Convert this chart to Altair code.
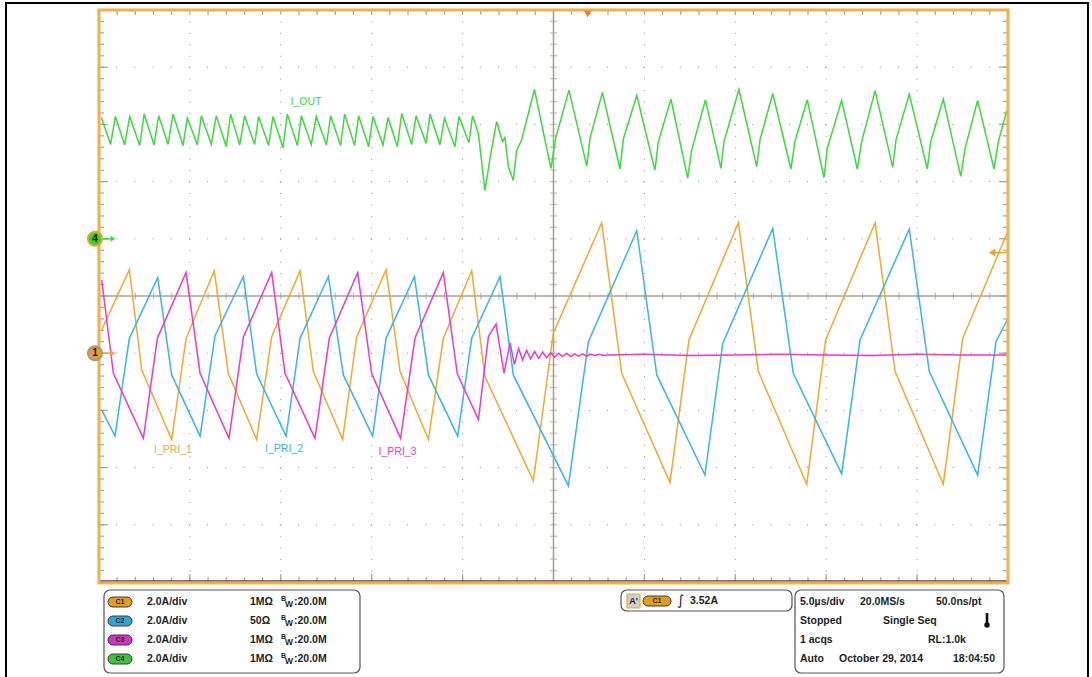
import altair as alt
import numpy as np
import pandas as pd

# ---------------------------------------------------------------------------
# Acquisition: 5.0 us/div x 10 div horizontally, 10 div vertically, 2.0 A/div
# Trace vertices: time in microseconds, position in screen divisions
# ---------------------------------------------------------------------------
i_pri_1_t = [0.15, 1.67, 2.35, 4.00, 4.79, 6.34, 7.11, 8.67, 9.50, 11.06,
             11.79, 13.40, 14.17, 15.79, 16.56, 18.12, 18.94, 20.50, 21.23, 23.89,
             24.99, 27.65, 28.75, 31.41, 32.45, 35.17, 36.27, 38.93, 39.97, 42.69,
             43.79, 46.44, 47.51, 49.95]
i_pri_1_div = [-0.59, 0.46, -1.29, -2.51, -0.74, 0.44, -1.35, -2.51, -0.71, 0.44,
               -1.32, -2.51, -0.72, 0.46, -1.32, -2.51, -0.74, 0.44, -1.41, -3.23,
               -0.65, 1.28, -1.35, -3.26, -0.77, 1.28, -1.32, -3.29, -0.77, 1.28,
               -1.32, -3.29, -0.74, 1.10]

i_pri_2_t = [0.15, 0.88, 1.67, 3.23, 4.00, 5.56, 6.38, 7.94, 8.67, 10.29,
             11.06, 12.62, 13.44, 15.05, 15.79, 17.35, 18.12, 19.73, 20.50, 22.06,
             22.79, 25.82, 26.92, 29.58, 30.68, 33.33, 34.31, 37.06, 38.19, 40.85,
             41.86, 44.57, 45.67, 48.33, 49.34, 49.95]
i_pri_2_div = [-1.99, -2.45, -0.74, 0.32, -1.38, -2.45, -0.70, 0.34, -1.36, -2.45,
               -0.74, 0.34, -1.38, -2.45, -0.74, 0.34, -1.38, -2.45, -0.74, 0.34,
               -1.38, -3.32, -0.80, 1.14, -1.38, -3.13, -0.83, 1.18, -1.35, -3.11,
               -0.77, 1.17, -1.32, -3.13, -0.80, -0.42]

i_pri_3_t = [0.15, 0.79, 2.44, 3.21, 4.79, 5.56, 7.15, 7.94, 9.50, 10.23,
             11.88, 12.67, 14.23, 15.00, 16.59, 17.38, 18.94, 19.71, 20.87, 21.42,
             21.84, 22.28, 22.61, 22.85, 23.08, 23.30, 23.52, 23.74, 23.96, 24.18,
             24.40, 24.62, 24.84, 25.06, 25.28, 25.50, 25.72, 25.94, 26.16, 26.38,
             26.60, 26.82, 27.04, 27.26, 27.50, 27.74, 28.00, 30.00, 32.50, 35.00,
             37.50, 40.00, 42.50, 45.00, 47.50, 49.95]
i_pri_3_div = [0.28, -1.35, -2.49, -0.74, 0.41, -1.35, -2.49, -0.72, 0.41, -1.35,
               -2.49, -0.74, 0.41, -1.36, -2.49, -0.74, 0.41, -1.36, -2.16, -0.71,
               -0.49, -1.35, -0.82, -1.20, -0.92, -1.12, -0.95, -1.10, -0.97, -1.09,
               -0.98, -1.08, -0.99, -1.07, -1.00, -1.06, -1.00, -1.06, -1.01, -1.05,
               -1.01, -1.05, -1.02, -1.04, -1.02, -1.04, -1.03, -1.02, -1.04, -1.03,
               -1.02, -1.03, -1.04, -1.02, -1.03, -1.03]

i_out_t = [0.13, 0.64, 0.90, 1.41, 1.69, 2.24, 2.48, 3.03, 3.28, 3.80,
           4.07, 4.62, 4.86, 5.41, 5.63, 6.18, 6.45, 7.00, 7.24, 7.74,
           8.01, 8.56, 8.78, 9.33, 9.57, 10.12, 10.36, 10.91, 11.13, 11.68,
           11.95, 12.51, 12.74, 13.29, 13.51, 14.06, 14.28, 14.83, 15.07, 15.62,
           15.90, 16.41, 16.65, 17.20, 17.44, 17.99, 18.21, 18.76, 19.00, 19.58,
           19.80, 20.35, 20.55, 20.87, 21.23, 21.51, 21.87, 22.20, 22.33, 22.52,
           22.79, 22.97, 23.25, 23.95, 24.86, 25.12, 25.85, 26.83, 27.01, 27.69,
           28.66, 28.84, 29.58, 30.58, 30.77, 31.46, 32.38, 32.60, 33.36, 34.21,
           34.38, 35.20, 36.18, 36.36, 37.06, 38.06, 38.28, 38.96, 39.88, 40.06,
           40.85, 41.71, 41.95, 42.69, 43.66, 43.84, 44.57, 45.56, 45.75, 46.44,
           47.40, 47.64, 48.33, 49.23, 49.47, 49.93]
i_out_div = [3.12, 2.65, 3.14, 2.64, 3.14, 2.63, 3.18, 2.64, 3.15, 2.65,
             3.18, 2.63, 3.11, 2.64, 3.15, 2.65, 3.15, 2.61, 3.18, 2.64,
             3.15, 2.65, 3.14, 2.63, 3.14, 2.59, 3.18, 2.63, 3.15, 2.65,
             3.14, 2.64, 3.15, 2.63, 3.18, 2.63, 3.15, 2.61, 3.14, 2.64,
             3.12, 2.61, 3.19, 2.65, 3.15, 2.67, 3.18, 2.64, 3.11, 2.61,
             3.14, 2.68, 3.15, 2.84, 1.84, 2.41, 3.05, 2.70, 2.77, 2.26,
             2.02, 2.54, 2.73, 3.61, 2.23, 2.76, 3.60, 2.27, 2.76, 3.56,
             2.22, 2.74, 3.51, 2.20, 2.70, 3.44, 2.06, 2.55, 3.43, 2.23,
             2.70, 3.61, 2.26, 2.73, 3.54, 2.22, 2.70, 3.43, 2.07, 2.58,
             3.42, 2.22, 2.70, 3.59, 2.25, 2.73, 3.53, 2.22, 2.70, 3.44,
             2.09, 2.58, 3.42, 2.22, 2.70, 3.24]

# Channel ground markers and trigger (divisions / microseconds)
ch4_offset_div = 1.0
ch1_offset_div = -1.0
trig_level_div = 0.76
trig_pos_us = 26.88

# Trace labels
label_text = ["I_OUT", "I_PRI_1", "I_PRI_2", "I_PRI_3"]
label_t = [11.39, 4.07, 10.18, 16.42]
label_div = [3.40, -2.70, -2.68, -2.73]

# Graticule
div_lines_t = [5, 10, 15, 20, 30, 35, 40, 45]
div_lines_y = [-4, -3, -2, -1, 1, 2, 3, 4]
minor_t = [float(v) for v in np.arange(0, 51, 1)]
minor_y = [round(float(v), 1) for v in np.arange(-5, 5.01, 0.2)]

# Channel readouts
ch_names = ["C1", "C2", "C3", "C4"]
ch_scale = ["2.0A/div", "2.0A/div", "2.0A/div", "2.0A/div"]
ch_term = ["1MΩ", "50Ω", "1MΩ", "1MΩ"]
ch_bw = [":20.0M", ":20.0M", ":20.0M", ":20.0M"]

ORANGE = "#F6A62B"
BLUE = "#35B6E9"
MAGENTA = "#EE38CF"
GREEN = "#3ADB3A"
LABEL_COLORS = [GREEN, ORANGE, BLUE, MAGENTA]
BADGE = ["#E39E1C", "#2FA5D9", "#CF33C4", "#3CC43C"]
FRAME = "#F4AE4C"
GRID = "#8E8E8E"
TICK = "#A9A394"
INK = "#1E1E1E"

W, H = 909, 572
xs = alt.Scale(domain=[0, 50], nice=False, zero=False)
ys = alt.Scale(domain=[-5, 5], nice=False, zero=False)
ONE = pd.DataFrame({"k": [0]})
LABEL_FONT = "Liberation Sans Narrow, Liberation Sans, Arial, sans-serif"
PANEL_FONT = "Liberation Sans, Arial, sans-serif"


def X(field="t"):
    return alt.X(f"{field}:Q", scale=xs, axis=None)


def Y(field="y"):
    return alt.Y(f"{field}:Q", scale=ys, axis=None)


layers = []

# dotted division grid
layers.append(alt.Chart(pd.DataFrame({"t": div_lines_t})).mark_rule(
    color=GRID, strokeWidth=1, strokeDash=[1, 10.44]).encode(x=X()))
layers.append(alt.Chart(pd.DataFrame({"y": div_lines_y})).mark_rule(
    color=GRID, strokeWidth=1, strokeDash=[1, 17.18]).encode(y=Y()))

# centre cross with minor ticks
layers.append(alt.Chart(pd.DataFrame({"t": [25]})).mark_rule(
    color=TICK, strokeWidth=1.6).encode(x=X()))
layers.append(alt.Chart(pd.DataFrame({"y": [0]})).mark_rule(
    color=TICK, strokeWidth=1.6).encode(y=Y()))
layers.append(alt.Chart(pd.DataFrame({"t": minor_t, "y": [0.0] * len(minor_t)})).mark_tick(
    orient="vertical", size=7, thickness=1.2, color=TICK).encode(x=X(), y=Y()))
layers.append(alt.Chart(pd.DataFrame({"y": minor_y, "t": [25.0] * len(minor_y)})).mark_tick(
    orient="horizontal", size=7, thickness=1.2, color=TICK).encode(y=Y(), x=X()))

# edge ticks
major_y = [v for v in minor_y if abs(v - round(v)) < 1e-6 and abs(v) < 5]
layers.append(alt.Chart(pd.DataFrame({"y": minor_y})).mark_rule(color=TICK, strokeWidth=1.2).encode(
    y=Y(), x=alt.value(0), x2=alt.value(5)))
layers.append(alt.Chart(pd.DataFrame({"y": major_y})).mark_rule(color=TICK, strokeWidth=1.2).encode(
    y=Y(), x=alt.value(0), x2=alt.value(9)))
layers.append(alt.Chart(pd.DataFrame({"y": minor_y})).mark_rule(color=TICK, strokeWidth=1.2).encode(
    y=Y(), x=alt.value(W), x2=alt.value(W - 5)))
layers.append(alt.Chart(pd.DataFrame({"y": major_y})).mark_rule(color=TICK, strokeWidth=1.2).encode(
    y=Y(), x=alt.value(W), x2=alt.value(W - 9)))
layers.append(alt.Chart(pd.DataFrame({"t": minor_t})).mark_rule(color=TICK, strokeWidth=1.2).encode(
    x=X(), y=alt.value(0), y2=alt.value(5)))
layers.append(alt.Chart(pd.DataFrame({"t": minor_t})).mark_rule(color=TICK, strokeWidth=1.2).encode(
    x=X(), y=alt.value(H), y2=alt.value(H - 5)))
layers.append(alt.Chart(pd.DataFrame({"t": div_lines_t})).mark_rule(color=TICK, strokeWidth=1.2).encode(
    x=X(), y=alt.value(H), y2=alt.value(H - 8)))
layers.append(alt.Chart(ONE).mark_rule(color="#4a4a4a", strokeWidth=1.5).encode(
    x=alt.value(0), x2=alt.value(W), y=alt.value(H - 1)))


# traces
def trace(t, v, color):
    df = pd.DataFrame({"t": t, "y": v})
    return alt.Chart(df).mark_line(color=color, strokeWidth=1.5).encode(x=X(), y=Y())


layers.append(trace(i_out_t, i_out_div, GREEN))
layers.append(trace(i_pri_1_t, i_pri_1_div, ORANGE))
layers.append(trace(i_pri_2_t, i_pri_2_div, BLUE))
layers.append(trace(i_pri_3_t, i_pri_3_div, MAGENTA))

# trace labels
for s, t, y, col in zip(label_text, label_t, label_div, LABEL_COLORS):
    layers.append(alt.Chart(pd.DataFrame({"t": [t], "y": [y]})).mark_text(
        text=s, fontSize=10.5, font=LABEL_FONT, color=col, align="center", baseline="middle").encode(
        x=X(), y=Y()))

# screen frame
layers.append(alt.Chart(ONE).mark_rect(fill="transparent", stroke=FRAME, strokeWidth=3).encode(
    x=alt.value(0), x2=alt.value(W), y=alt.value(0), y2=alt.value(H + 1)))

# channel ground markers
for off, fill, ring, label, arrow_col in [(ch4_offset_div, "#2CD62C", "#F0A030", "4", GREEN),
                                          (ch1_offset_div, "#E6A01C", "#9A9A9A", "1", ORANGE)]:
    d = pd.DataFrame({"y": [off]})
    layers.append(alt.Chart(d).mark_rule(color=arrow_col, strokeWidth=1.6).encode(
        x=alt.value(3), x2=alt.value(12), y=Y()))
    layers.append(alt.Chart(d).mark_point(shape="triangle-right", filled=True, size=32, color=arrow_col,
                                          opacity=1).encode(x=alt.value(14), y=Y()))
    layers.append(alt.Chart(d).mark_point(shape="circle", filled=True, size=200, fill=fill, stroke=ring,
                                          strokeWidth=2, opacity=1).encode(x=alt.value(-4), y=Y()))
    layers.append(alt.Chart(d).mark_text(text=label, fontSize=10, fontWeight="bold", font=PANEL_FONT,
                                         color="#111", align="center", baseline="middle").encode(
        x=alt.value(-4), y=Y()))

# trigger markers
layers.append(alt.Chart(pd.DataFrame({"t": [trig_pos_us]})).mark_point(
    shape="triangle-down", filled=True, size=55, color="#F47E1E", opacity=1).encode(x=X(), y=alt.value(4)))
trig_df = pd.DataFrame({"y": [trig_level_div]})
layers.append(alt.Chart(trig_df).mark_rule(color=ORANGE, strokeWidth=1.6).encode(
    x=alt.value(896), x2=alt.value(W), y=Y()))
layers.append(alt.Chart(trig_df).mark_point(shape="triangle-left", filled=True, size=60, color=ORANGE,
                                            opacity=1).encode(x=alt.value(893), y=Y()))

# outer page frame
layers.append(alt.Chart(ONE).mark_rect(fill="transparent", stroke="#000", strokeWidth=2).encode(
    x=alt.value(-93), x2=alt.value(989), y=alt.value(-7), y2=alt.value(690)))


# readout panels
def box(x1, x2, y1, y2, fill="white", stroke="#555", sw=1.2, r=6):
    return alt.Chart(ONE).mark_rect(fill=fill, stroke=stroke, strokeWidth=sw, cornerRadius=r).encode(
        x=alt.value(x1), x2=alt.value(x2), y=alt.value(y1), y2=alt.value(y2))


def txt(s, x, y, size=10.5, bold=True, align="left", color=INK, font=PANEL_FONT):
    return alt.Chart(ONE).mark_text(text=s, fontSize=size, fontWeight="bold" if bold else "normal",
                                    font=font, color=color, align=align, baseline="middle").encode(
        x=alt.value(x), y=alt.value(y))


rows = [592, 611, 630, 649]
layers.append(box(5, 261, 580, 663))
for i, yy in enumerate(rows):
    layers.append(box(9, 33, yy - 5, yy + 5, fill=BADGE[i], stroke="#3a3a3a", sw=1, r=5))
    layers.append(txt(ch_names[i], 21, yy, size=7, color="#222", align="center"))
    layers.append(txt(ch_scale[i], 48, yy))
    layers.append(txt(ch_term[i], 151, yy))
    layers.append(txt("B", 182, yy - 3, size=7))
    layers.append(txt("W", 186, yy + 2, size=8.5))
    layers.append(txt(ch_bw[i], 195, yy))

# trigger readout
layers.append(box(522, 693, 580, 601))
layers.append(box(528, 541, 584, 598, fill="#CFCFCF", stroke=ORANGE, sw=1.2, r=1))
layers.append(txt("A'", 534.5, 591, size=9, align="center"))
layers.append(box(544, 572, 586, 596, fill=BADGE[0], stroke="#3a3a3a", sw=1, r=5))
layers.append(txt("C1", 558, 591, size=7, color="#222", align="center"))
layers.append(txt("∫", 578, 591, size=14, bold=False, font="DejaVu Sans"))
layers.append(txt("3.52A", 591, 591))

# timebase readout
layers.append(box(696, 905, 580, 663))
layers.append(txt("5.0µs/div", 701, rows[0]))
layers.append(txt("20.0MS/s", 761, rows[0]))
layers.append(txt("50.0ns/pt", 837, rows[0]))
layers.append(txt("Stopped", 701, rows[1]))
layers.append(txt("Single Seq", 784, rows[1]))
layers.append(txt("1 acqs", 701, rows[2]))
layers.append(txt("RL:1.0k", 829, rows[2]))
layers.append(txt("Auto", 701, rows[3]))
layers.append(txt("October 29, 2014", 740, rows[3]))
layers.append(txt("18:04:50", 854, rows[3]))
layers.append(alt.Chart(ONE).mark_rule(color="#111", strokeWidth=2.6).encode(
    x=alt.value(888), y=alt.value(603), y2=alt.value(614)))
layers.append(alt.Chart(ONE).mark_point(shape="circle", filled=True, size=30, color="#111", opacity=1).encode(
    x=alt.value(888), y=alt.value(615)))

chart = alt.layer(*layers).properties(
    width=W, height=H,
    autosize=alt.AutoSizeParams(type="none"),
    padding={"left": 99, "top": 10, "right": 84, "bottom": 95},
    background="white",
).configure_view(stroke=None)

chart.save("out.html", embed_options={"renderer": "svg", "actions": False})
